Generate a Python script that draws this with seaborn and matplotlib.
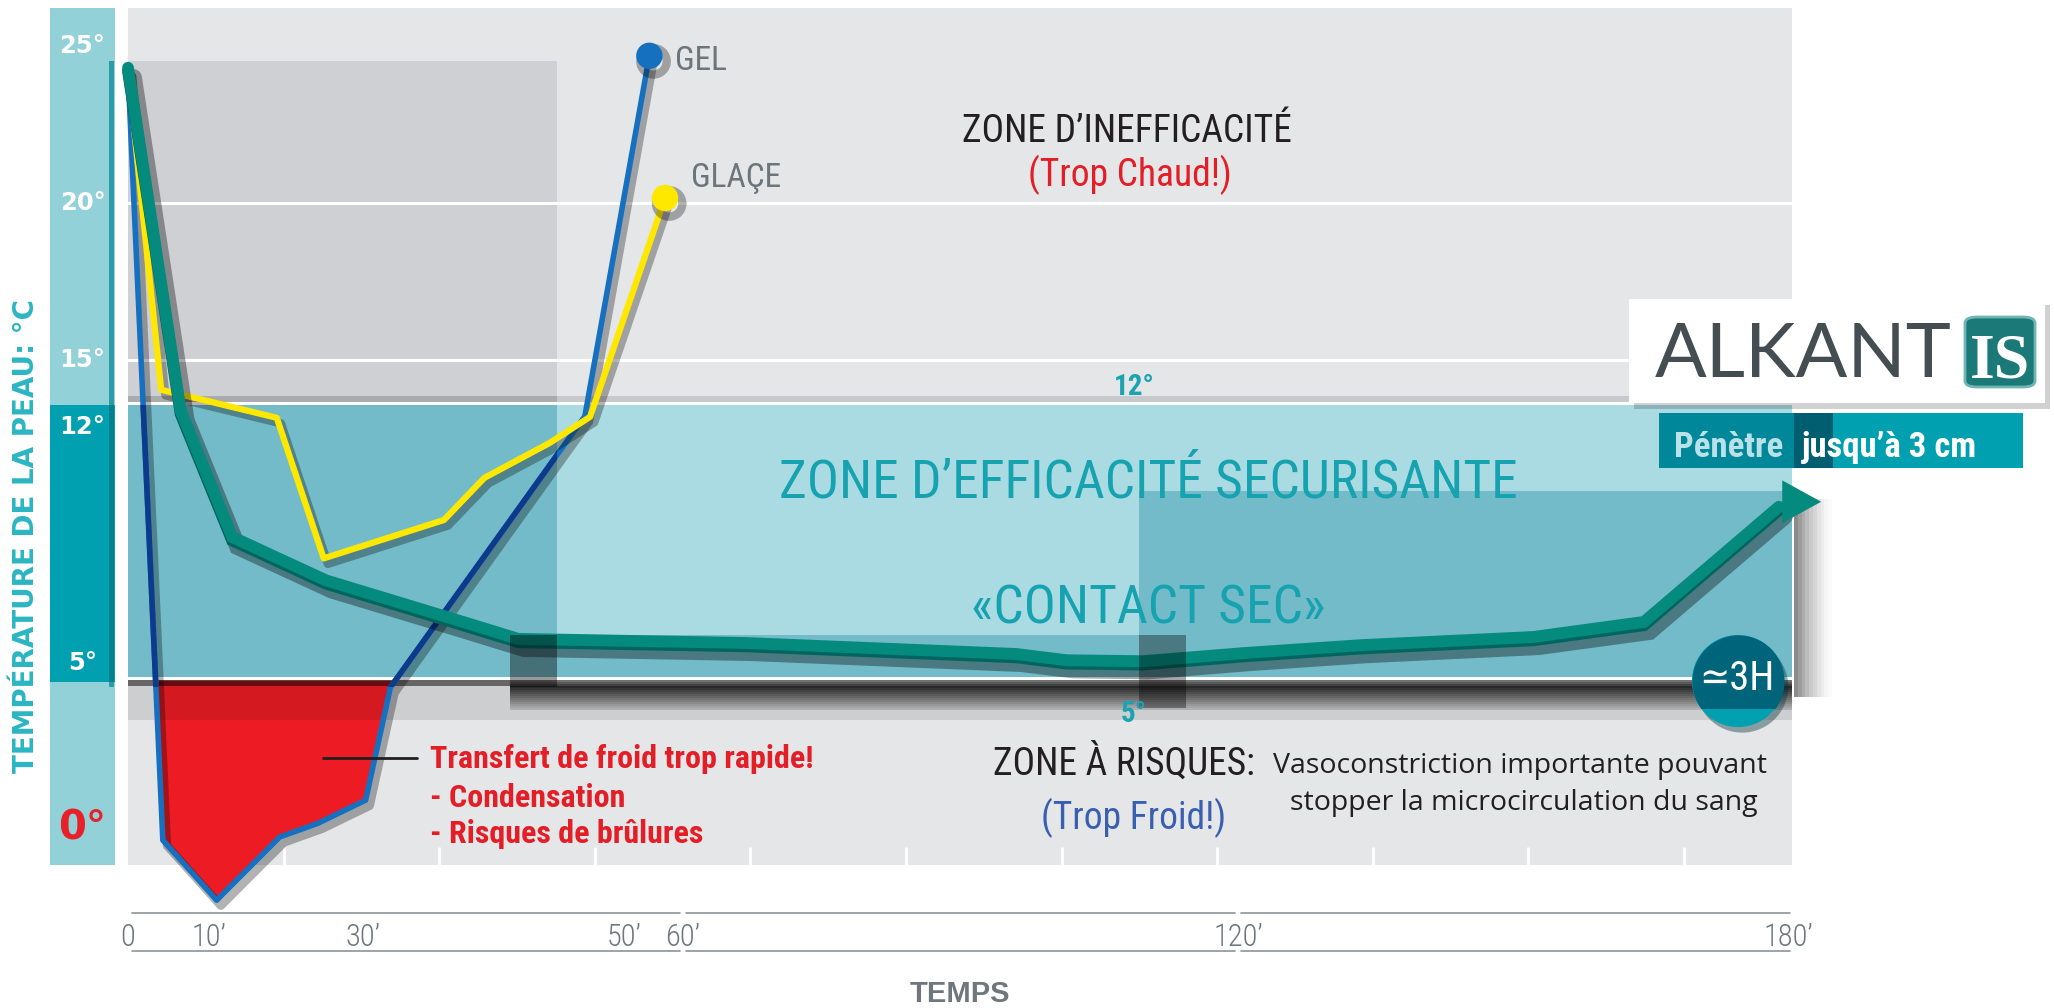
import numpy as np
import matplotlib
matplotlib.use("Agg")
import matplotlib.pyplot as plt
import matplotlib.patheffects as pe
from matplotlib import font_manager as fm
from matplotlib.lines import Line2D
from matplotlib.patches import Rectangle, FancyBboxPatch
from matplotlib.transforms import blended_transform_factory
import seaborn as sns

# skin temperature (°C) against time (minutes)
alkantis_time = [0, 6.5, 13.0, 25.2, 36.4, 41.9, 66.7, 96.0, 101.5, 109.7, 120.7, 133.4, 152.2, 164.3, 179.0]
alkantis_temp = [24.3, 13.4, 9.38, 8.0, 6.84, 6.14, 6.01, 5.66, 5.46, 5.43, 5.69, 5.94, 6.2, 6.68, 10.34]
glace_time = [0, 4.1, 18.8, 24.9, 36.2, 39.3, 44.3, 47.4, 56.95]
glace_temp = [24.2, 14.06, 13.17, 8.7, 9.92, 11.26, 12.37, 13.2, 20.16]
gel_time = [0, 4.3, 11.0, 19.2, 24.2, 30.2, 32.1, 47.0, 54.3]
gel_temp = [24.2, -0.26, -2.17, -0.16, 0.28, 1.01, 4.6, 13.22, 24.68]
arrow_tip = (183.6, 10.5)

# the time axis of the original is not linear: tick minute -> pixel column
tick_minutes = [0, 10, 30, 50, 60, 120, 180]
tick_labels = ["0", "10’", "30’", "50’", "60’", "120’", "180’"]
tick_columns = [128, 209, 363, 624, 683, 1238, 1788]

y_labels = ["25°", "20°", "15°", "12°", "5°", "0°"]
y_label_pos = [25, 20, 15, 12.88, 5.37, 0.12]

# zones (as drawn)
band_bottom, band_top = 4.92, 13.58
grey_block_end = 44.9      # minutes, dark block on the left
W, H = 2054, 1008

cols = np.r_[tick_columns[0] - 81, tick_columns, tick_columns[-1] + 92]
mins = np.r_[-10, tick_minutes, 190]


def to_col(t):
    return np.interp(t, mins, cols)


def to_min(c):
    return np.interp(c, cols, mins)


sns.set_style("white")
ttf = fm.fontManager.ttflist
cond_names = [f.name for f in ttf if f.stretch == "condensed"
              and "Mono" not in f.name and "Serif" not in f.name]
pref = ["Roboto Condensed", "Open Sans Condensed", "Noto Sans", "Liberation Sans Narrow", "DejaVu Sans"]
COND = next((n for n in pref if n in cond_names), cond_names[0] if cond_names else "Roboto")
plt.rcParams["font.family"] = ["DejaVu Sans"]
cond = dict(family=[COND, "DejaVu Sans"], stretch="condensed")

fig = plt.figure(figsize=(W / 100, H / 100), dpi=100)
ax = fig.add_axes([128 / W, (H - 865) / H, (1792 - 128) / W, (865 - 8) / H])
ax.set_facecolor("#e5e6e8")
ax.set_xscale("function", functions=(to_col, to_min))
xmax = to_min(1792)

# background zones
ax.fill_between([0, grey_block_end], 13.86, 24.52, color="#cfd0d4", lw=0, zorder=0.5)
ax.axhspan(13.67, 13.86, color="#c8c9cd", lw=0, zorder=0.6)
ax.fill_between([0, grey_block_end], 13.67, 13.86, color="#a9abaf", lw=0, zorder=0.61)
ax.axhspan(band_top, 13.67, color="white", lw=0, zorder=0.7)
for g in (20, 15):
    ax.axhline(g, color="white", lw=2.2, zorder=0.8)
ax.axhspan(band_bottom, band_top, color="#aadbe2", lw=0, zorder=1)
dark = "#73bbc8"
ax.fill_between([0, grey_block_end], band_bottom, band_top, color=dark, lw=0, zorder=1.1)
ax.fill_between([41.3, xmax], band_bottom, 6.27, color=dark, lw=0, zorder=1.1)
ax.fill_between([109.3, xmax], 6.27, 10.84, color=dark, lw=0, zorder=1.1)
ax.axhspan(4.83, band_bottom, color="white", lw=0, zorder=1.2)
ax.vlines((np.arange(1, 11) * 155.6) / 1664, 0, 0.021, color="white", lw=2,
          transform=ax.transAxes, zorder=1.3)

# red cold-burn area
gt, gv = np.array(gel_time), np.array(gel_temp)
ax.fill_between(gt, gv, 4.83, where=gv < 4.83, interpolate=True, color="#ed1c24", lw=0,
                zorder=2, clip_on=False)

# shadow under the 5° line
ax.axhspan(3.56, 4.83, color="black", alpha=0.1, lw=0, zorder=2.2)
ax.axhspan(4.65, 4.83, xmax=0.2296, color="black", alpha=0.5, lw=0, zorder=2.2)
edges = np.linspace(4.83, 3.88, 16)
alphas = np.interp(np.arange(15), [0, 3, 15], [0.45, 0.8, 0.08])
for i in range(15):
    ax.axhspan(edges[i + 1], edges[i], xmin=0.2296, color="black", alpha=alphas[i], lw=0, zorder=2.2)
# shadow right of the band
sx = np.linspace(1794, 1832, 11)
for i in range(10):
    ax.fill_between([to_min(sx[i]), to_min(sx[i + 1])], 4.3, 10.6, color="black",
                    alpha=0.45 * (1 - i / 10) ** 1.5, lw=0, zorder=2.2, clip_on=False)

# curves
sh = lambda o, a, w: pe.SimpleLineShadow(offset=o, shadow_color="black", alpha=a, linewidth=w)
sns.lineplot(x=gel_time, y=gel_temp, sort=False, estimator=None, ax=ax, color="#1570bf", lw=4,
             marker="o", markevery=[len(gel_time) - 1], ms=19, mew=0, zorder=3, clip_on=False,
             path_effects=[sh((3, -4), 0.3, 6), pe.Normal()])
navy = ax.plot(gel_time, gel_temp, color="#0c3a8c", lw=4, zorder=3.1)[0]
navy.set_clip_path(Rectangle((0, 4.6), grey_block_end, band_top - 4.6, transform=ax.transData))
sns.lineplot(x=glace_time, y=glace_temp, sort=False, estimator=None, ax=ax, color="#ffe800", lw=4.5,
             marker="o", markevery=[len(glace_time) - 1], ms=19, mew=0, zorder=4, clip_on=False,
             path_effects=[sh((3, -4), 0.3, 6), pe.Normal()])
sns.lineplot(x=alkantis_time, y=alkantis_temp, sort=False, estimator=None, ax=ax, color="#058a7e",
             lw=8.5, zorder=5, solid_joinstyle="miter", clip_on=False,
             path_effects=[sh((4, -7), 0.35, 12),
                           pe.SimpleLineShadow(offset=(0, -2.4), shadow_color="#00655e", alpha=1, linewidth=8.5),
                           pe.Normal()])
ax.annotate("", xy=arrow_tip, xytext=(alkantis_time[-1] + 0.4, arrow_tip[1]),
            arrowprops=dict(arrowstyle="-|>,head_length=1.0,head_width=0.55", color="#058a7e",
                            lw=0, mutation_scale=28, shrinkA=0, shrinkB=0),
            annotation_clip=False, zorder=5)

# small shadow squares
ax.fill_between([41.3, grey_block_end], 4.6, 6.27, color="black", alpha=0.4, lw=0, zorder=6)
ax.fill_between([109.3, 114.4], 3.93, 6.27, color="black", alpha=0.35, lw=0, zorder=6)

# "≃3H" badge
bx, by = to_min(1738), 4.8
base = ax.scatter([bx], [by], s=4400, color="#00a0b1", lw=0, zorder=7, clip_on=False,
                  path_effects=[pe.SimplePatchShadow(offset=(3, -4), alpha=0.4), pe.Normal()])
top = ax.scatter([bx], [by], s=4400, color="#00647a", lw=0, zorder=7.1)
top.set_clip_path(Rectangle((0, 3.93), 200, 30, transform=ax.transData))

ax.set_xlim(0, xmax)
ax.set_ylim(-1.05, 26.2)
ax.set_xticks(tick_minutes)
ax.set_xticklabels(tick_labels)
for lab in ax.get_xticklabels():
    lab.set(fontsize=22, color="#6d777d", weight="light", **cond)
ax.tick_params(axis="x", length=0, pad=42)
ax.tick_params(axis="y", left=False, labelleft=False)
for s in ax.spines.values():
    s.set_visible(False)

# underline rules of the time axis
tr = blended_transform_factory(ax.transData, fig.transFigure)
for a, b in [(0.5, 59.46), (60.3, 119.7), (120.3, 180.2)]:
    for yy in (913, 951):
        ax.plot([a, b], [1 - yy / H] * 2, transform=tr, color="#8b959b", lw=1.2, clip_on=False)

# left temperature bar
axb = fig.add_axes([50 / W, (H - 865) / H, 65 / W, (865 - 8) / H], sharey=ax)
axb.set_facecolor("#93d1d9")
axb.set_xlim(0, 1)
axb.axhspan(4.77, band_top, color="#00a0b1", lw=0)
axb.fill_between([0.905, 0.985], 4.6, 24.52, color="#2c9ba8", lw=0)
axb.fill_between([0.905, 0.985], 4.77, band_top, color="#007f8e", lw=0)
axb.set_xticks([])
axb.tick_params(left=False, labelleft=False)
for s in axb.spines.values():
    s.set_visible(False)
bt = blended_transform_factory(axb.transAxes, axb.transData)
for lab, pos in zip(y_labels, y_label_pos):
    red = lab == "0°"
    axb.text(0.5, pos, lab, transform=bt, ha="center", va="center", weight="bold",
             color="#e8202a" if red else "white", fontsize=29 if red else 17.5)


def ftext(x, y, s, **kw):
    return fig.text(x / W, 1 - y / H, s, **kw)


def frect(x0, y0, x1, y1, **kw):
    r = Rectangle((x0 / W, 1 - y1 / H), (x1 - x0) / W, (y1 - y0) / H, transform=fig.transFigure, **kw)
    fig.add_artist(r)
    return r


ftext(26, 536, "TEMPÉRATURE DE LA PEAU: °C", rotation=90, ha="center", va="center",
      weight="bold", fontsize=20, color="#2bb5c2")
ftext(960, 994, "TEMPS", ha="center", va="center", weight="bold", fontsize=21,
      color="#6d777d", family="Liberation Sans")

ftext(675, 70, "GEL", ha="left", va="baseline", color="#6b757c", fontsize=24, **cond)
ftext(691, 187, "GLAÇE", ha="left", va="baseline", color="#6b757c", fontsize=24, **cond)
ftext(1127, 142, "ZONE D’INEFFICACITÉ", ha="center", va="baseline", color="#231f20", fontsize=27, **cond)
ftext(1130, 186, "(Trop Chaud!)", ha="center", va="baseline", color="#e41e26", fontsize=27, **cond)
ftext(1134, 395, "12°", ha="center", va="baseline", color="#1aa3b0", fontsize=21, weight="bold", **cond)
ftext(1148, 498, "ZONE D’EFFICACITÉ SECURISANTE", ha="center", va="baseline", color="#17a2b0",
      fontsize=38.5, **cond)
ftext(1148, 623, "«CONTACT SEC»", ha="center", va="baseline", color="#17a2b0", fontsize=38.5, **cond)
ftext(1134, 722, "5°", ha="center", va="baseline", color="#1aa3b0", fontsize=21, weight="bold", **cond)

for yy, s in [(768, "Transfert de froid trop rapide!"), (807, "- Condensation"), (843, "- Risques de brûlures")]:
    ftext(430, yy, s, ha="left", va="baseline", color="#e41e26", fontsize=23, weight="bold", **cond)
fig.add_artist(Line2D([323 / W, 417 / W], [1 - 758 / H] * 2, color="#231f20", lw=2))

ftext(993, 775, "ZONE À RISQUES:", ha="left", va="baseline", color="#231f20", fontsize=27, **cond)
ftext(1520, 773, "Vasoconstriction importante pouvant", ha="center", va="baseline",
      color="#231f20", fontsize=20.5, family="Open Sans")
ftext(1524, 810, "stopper la microcirculation du sang", ha="center", va="baseline",
      color="#231f20", fontsize=20.5, family="Open Sans")
ftext(1134, 818, "(Trop Froid!)", ha="center", va="center", color="#3a5fb0", fontsize=27, **cond)
ftext(1737, 678, "≃3H", ha="center", va="center", color="white", fontsize=29, zorder=10, **cond)

# logo
frect(1634, 305, 2050, 409, color="black", alpha=0.18, lw=0)
frect(1629, 299, 2045, 403, color="white", lw=0)
ftext(1655, 377, "ALKANT", ha="left", va="baseline", color="#434d52", fontsize=55, family="Lato")
fig.add_artist(FancyBboxPatch((1965 / W, 1 - 387 / H), 70 / W, 70 / H,
                              boxstyle="round,pad=0,rounding_size=0.006", transform=fig.transFigure,
                              facecolor="#1b7a78", edgecolor="#6fb6b3", lw=2))
ftext(2000, 377, "IS", ha="center", va="baseline", color="white", fontsize=46, weight="bold",
      family="Liberation Serif")
frect(1659, 413, 1794, 468, color="#00889a", lw=0)
frect(1794, 413, 1833, 468, color="#005e70", lw=0)
frect(1833, 413, 2023, 468, color="#00a0b1", lw=0)
ftext(1674, 457, "Pénètre", ha="left", va="baseline", color="#b9e1e7", fontsize=25, weight="bold", **cond)
ftext(1802, 457, "jusqu’à 3 cm", ha="left", va="baseline", color="white", fontsize=25, weight="bold", **cond)

fig.savefig("out.png", dpi=100, facecolor="white")
